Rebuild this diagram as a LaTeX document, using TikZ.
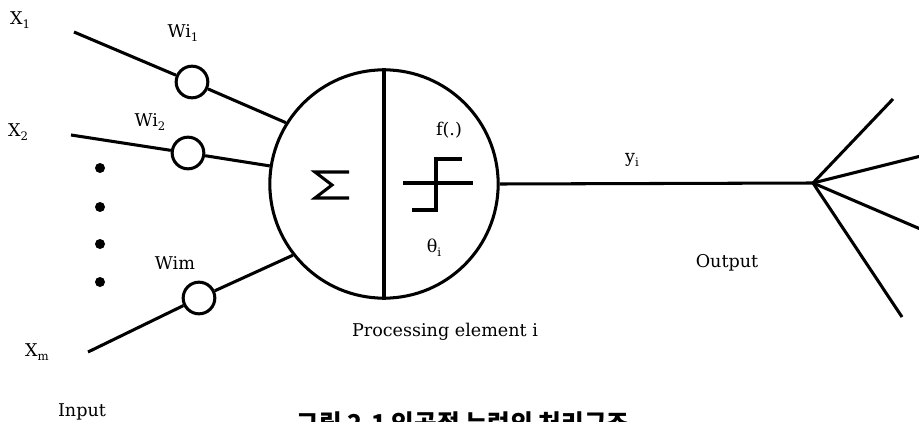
\documentclass[tikz,border=0pt]{standalone}
\usepackage{fontspec}
\setmainfont{DejaVu Serif}
\newfontfamily\kor{Noto Sans CJK KR}
\usepackage{tikz}
\usetikzlibrary{positioning,calc}
\newcommand{\lowidx}[1]{\raisebox{-0.45ex}{\fontsize{10}{10}\selectfont #1}}

\begin{document}
\begin{tikzpicture}[x=0.03cm,y=-0.03cm,
    wire/.style={line width=2.6pt},
    weight/.style={draw, circle, line width=2.6pt, minimum size=0.95cm, inner sep=0pt},
    lbl/.style={font=\fontsize{15}{18}\selectfont, inner sep=0pt},
    dotmark/.style={fill, circle, minimum size=0.3cm, inner sep=0pt}]
  \useasboundingbox (0,0) rectangle (919,422);
  \clip (0,0) rectangle (919,422);

  % processing element
  \node[draw, circle, line width=2.6pt, minimum size=6.85cm, inner sep=0pt] (pe) at (384,184) {};
  \draw[wire] (pe.north) -- (pe.south);
  \draw[wire, line join=miter] (349,172) -- (315,172) -- (332,185) -- (315,198) -- (349,198);
  \draw[wire] (403,183) -- (473,183);
  \draw[wire] (412,210) -- (436,210) -- (436,159) -- (462,159);
  \node[lbl] (f) at (449,130) {f(.)};
  \node[lbl] (theta) at (434,248) {θ\lowidx{i}};
  \node[lbl] (pel) at (445,332) {Processing element i};

  % inputs
  \coordinate (x1) at (74,32);
  \coordinate (x2) at (71,135);
  \coordinate (xm) at (88,352);
  \node[weight] (w1) at (192,82) {};
  \node[weight] (w2) at (188,153) {};
  \node[weight] (wm) at (199,298) {};
  \draw[wire] (x1) -- (w1) -- (pe.148);
  \draw[wire] (x2) -- (w2) -- (pe.171);
  \draw[wire] (xm) -- (wm) -- (pe.218);

  \node[lbl] (x1l) at (20,20) {X\lowidx{1}};
  \node[lbl] (x2l) at (18,132) {X\lowidx{2}};
  \node[lbl] (xml) at (37,352) {X\lowidx{m}};
  \node[lbl] (w1l) at (183,33) {Wi\lowidx{1}};
  \node[lbl] (w2l) at (150,122) {Wi\lowidx{2}};
  \node[lbl] (wml) at (175,263) {Wim};
  \node[lbl] (inl) at (82,412) {Input};

  \foreach \yy [count=\i] in {168,207,244,282}
    \node[dotmark] (dot\i) at (100,\yy) {};

  % output
  \coordinate (fan) at (813,183);
  \coordinate (o1) at (893,99);
  \coordinate (o2) at (925,155);
  \coordinate (o3) at (925,231);
  \coordinate (o4) at (902,317);
  \draw[wire] (pe.east) -- (fan);
  \foreach \o in {o1,o2,o3,o4}
    \draw[wire] (fan) -- (\o);
  \node[lbl] (yl) at (632,160) {y\lowidx{i}};
  \node[lbl] (outl) at (727,263) {Output};

  \node[font=\kor\bfseries\fontsize{21}{24}\selectfont, inner sep=0pt] (cap) at (463,423) {그림 2.1 인공적 뉴런의 처리구조};
\end{tikzpicture}
\end{document}
